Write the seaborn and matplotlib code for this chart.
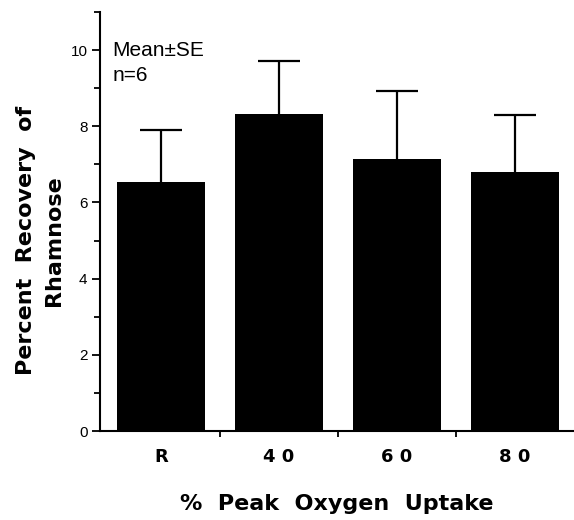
import numpy as np
import matplotlib
matplotlib.use("Agg")
import matplotlib.pyplot as plt
import seaborn as sns

# data
conditions = ["R", "4 0", "6 0", "8 0"]
mean_recovery = [6.55, 8.33, 7.15, 6.80]
se_recovery = [1.35, 1.37, 1.77, 1.50]

sns.set_style("ticks")
plt.rcParams["font.family"] = ["Liberation Sans", "DejaVu Sans"]
plt.rcParams.update({"text.color": "black", "axes.labelcolor": "black",
                     "xtick.color": "black", "ytick.color": "black",
                     "axes.edgecolor": "black"})
bold_font = {"family": "DejaVu Sans", "weight": "bold"}

fig = plt.figure(figsize=(5.74, 5.2), dpi=100)
ax = fig.add_axes([0.174, 0.171, 0.826, 0.806])

sns.barplot(x=conditions, y=mean_recovery, color="black", saturation=1,
            width=0.745, edgecolor="none", ax=ax)

# upper-only SE bars
pos = np.arange(len(conditions))
eb = ax.errorbar(pos, mean_recovery, yerr=[np.zeros(len(pos)), se_recovery],
                 fmt="none", ecolor="black", elinewidth=1.6, capsize=15,
                 capthick=1.6)
eb[1][0].set_visible(False)

ax.set_ylim(0, 11)
ax.set_xlim(-0.517, 3.5)
ax.set_yticks([0, 2, 4, 6, 8, 10])
ax.set_yticks([1, 3, 5, 7, 9, 11], minor=True)
ax.set_xticks(pos)
ax.set_xticks([0.5, 1.5, 2.5], minor=True)

sns.despine(ax=ax)
for side in ["left", "bottom"]:
    ax.spines[side].set_linewidth(1.5)

ax.tick_params(axis="y", which="major", length=6, width=1.3, pad=3,
               labelsize=11)
ax.tick_params(axis="y", which="minor", length=4, width=1.3)
ax.tick_params(axis="x", which="major", length=0, pad=12)
ax.tick_params(axis="x", which="minor", length=4, width=1.3)
ax.set_xticklabels(conditions, fontdict=dict(bold_font, size=13))

ax.set_xlabel("%  Peak  Oxygen  Uptake", fontdict=dict(bold_font, size=16),
              labelpad=20)
ax.set_ylabel("Percent  Recovery  of\nRhamnose",
              fontdict=dict(bold_font, size=16), linespacing=1.55)
ax.yaxis.set_label_coords(-0.075, 0.455)

ax.text(0.027, 0.93, "Mean±SE\nn=6", transform=ax.transAxes,
        fontsize=15, va="top", ha="left", linespacing=1.35)

fig.savefig("out.png", dpi=100)
